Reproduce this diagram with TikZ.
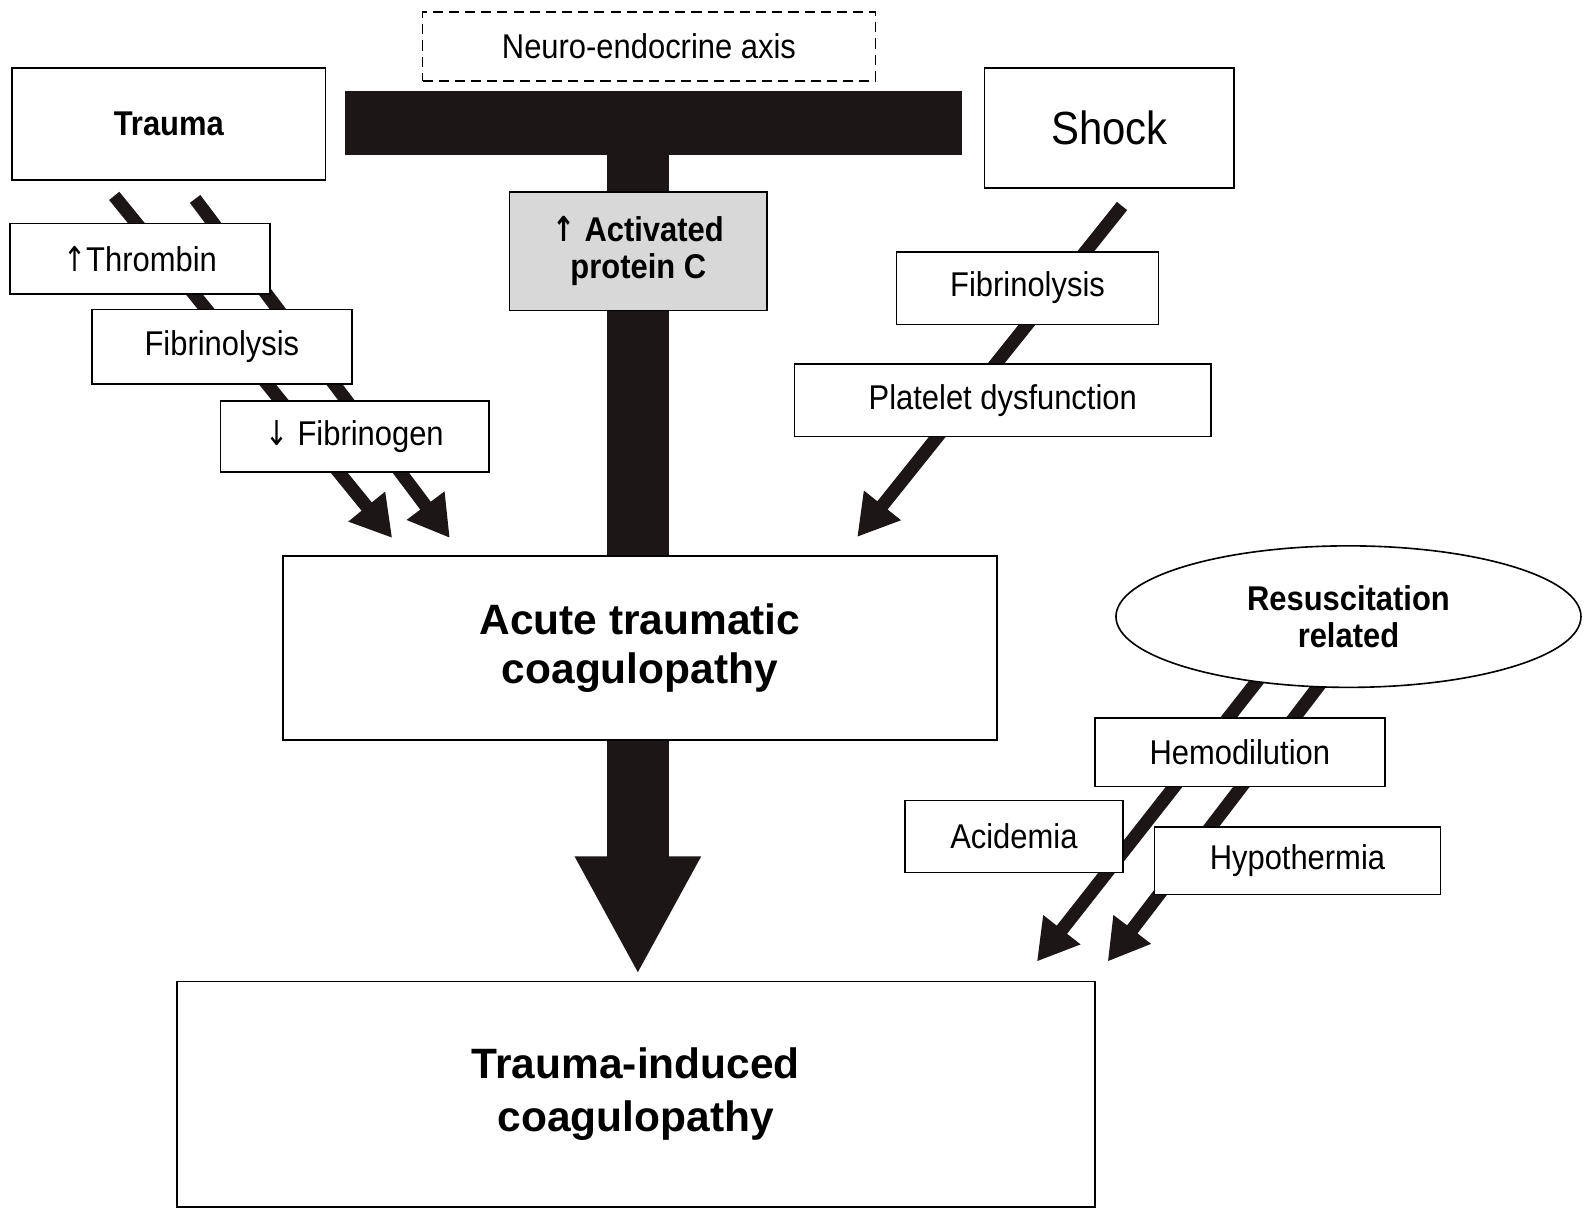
\documentclass[tikz,border=0pt]{standalone}
\usepackage{fontspec}
\setmainfont{Liberation Sans}[FakeStretch=0.9]
\newfontfamily\widefont{Liberation Sans}
\newfontfamily\symfont{DejaVu Sans}[FakeStretch=0.8]
\usetikzlibrary{arrows.meta,shapes.geometric}
\pgfdeclarelayer{background}
\pgfsetlayers{background,main}
\definecolor{barblack}{RGB}{28,22,22}
\definecolor{apcgray}{RGB}{216,216,216}
\tikzset{
  box/.style={draw=black, line width=0.8pt, fill=white, inner sep=0pt, align=center,
    font=\fontsize{17}{18.5}\selectfont},
  sz/.style 2 args={minimum width=#1*0.5pt, minimum height=#2*0.5pt},
  fat/.style={line width=6.5pt, draw=barblack, -{Triangle[width=22pt,length=20pt]}},
  bigtxt/.style={font=\widefont\bfseries\fontsize{21}{23.5}\selectfont},
}
\begin{document}
\begin{tikzpicture}[x=0.5pt,y=-0.5pt]
\useasboundingbox (0,0) rectangle (1568,1197);
% nodes
\node[box, sz={448}{68}, draw=black, dashed, dash pattern=on 5pt off 3pt, line width=0.7pt] (neuro) at (642,46) {Neuro-endocrine axis};
\node[draw=none, fill=barblack, inner sep=0pt, sz={611}{63}] (tbar) at (646.5,121.5) {};
\node[box, sz={310}{111}, font=\bfseries\fontsize{17}{18.5}\selectfont] (trauma) at (167,122.5) {Trauma};
\node[box, sz={247}{119}, font=\fontsize{23}{25}\selectfont] (shock) at (1097.5,126.5) {Shock};
\node[box, sz={255}{117}, fill=apcgray, font=\bfseries\fontsize{17}{18.5}\selectfont] (apc) at (631.5,248.5) {{\symfont ↑} Activated\\protein C};
\node[box, sz={257}{70}] (thrombin) at (138.5,256) {{\symfont ↑}Thrombin};
\node[box, sz={257}{74}] (fibl) at (219.5,343) {Fibrinolysis};
\node[box, sz={266}{70}] (fibrinogen) at (351,432) {{\symfont ↓} Fibrinogen};
\node[box, sz={259}{72}] (fibr) at (1016.5,285) {Fibrinolysis};
\node[box, sz={412}{72}] (platelet) at (992,396) {Platelet dysfunction};
\node[box, sz={706}{182}, bigtxt] (atc) at (633,641) {Acute traumatic\\[1pt]coagulopathy};
\node[box, sz={908}{223}, bigtxt] (tic) at (629,1082.5) {Trauma-induced\\[2.5pt]coagulopathy};
\node[box, ellipse, sz={460}{140}, font=\bfseries\fontsize{17}{18.5}\selectfont] (resus) at (1334,610) {Resuscitation\\related};
\node[box, sz={287}{68}] (hemo) at (1226.5,744) {Hemodilution};
\node[box, sz={216}{71}] (acid) at (1003,827.5) {Acidemia};
\node[box, sz={283}{67}] (hypo) at (1283.5,851.5) {Hypothermia};
\coordinate (stemx) at (631,0);
% connectors behind the boxes
\begin{pgfonlayer}{background}
  \draw[line width=31pt, draw=barblack] (tbar.south -| stemx) -- (atc.north -| stemx);
  \draw[fat] ([shift={(-54,15)}]trauma.south) -- ([shift={(-245,-17)}]atc.north);
  \draw[fat] ([shift={(26,18)}]trauma.south) -- ([shift={(-188,-17)}]atc.north);
  \draw[fat] ([shift={(12.5,17)}]shock.south) -- ([shift={(215,-18)}]atc.north);
  \draw[fat] ([shift={(-84,-15)}]resus.south) -- ([shift={(-58,-19)}]tic.north east);
  \draw[fat] ([shift={(-22,-12)}]resus.south) -- ([shift={(12,-19)}]tic.north east);
\end{pgfonlayer}
\draw[line width=31pt, draw=barblack, -{Triangle[width=58pt,length=58.5pt]}, shorten >=3pt] (atc.south -| stemx) -- (tic.north -| stemx);
\end{tikzpicture}
\end{document}
